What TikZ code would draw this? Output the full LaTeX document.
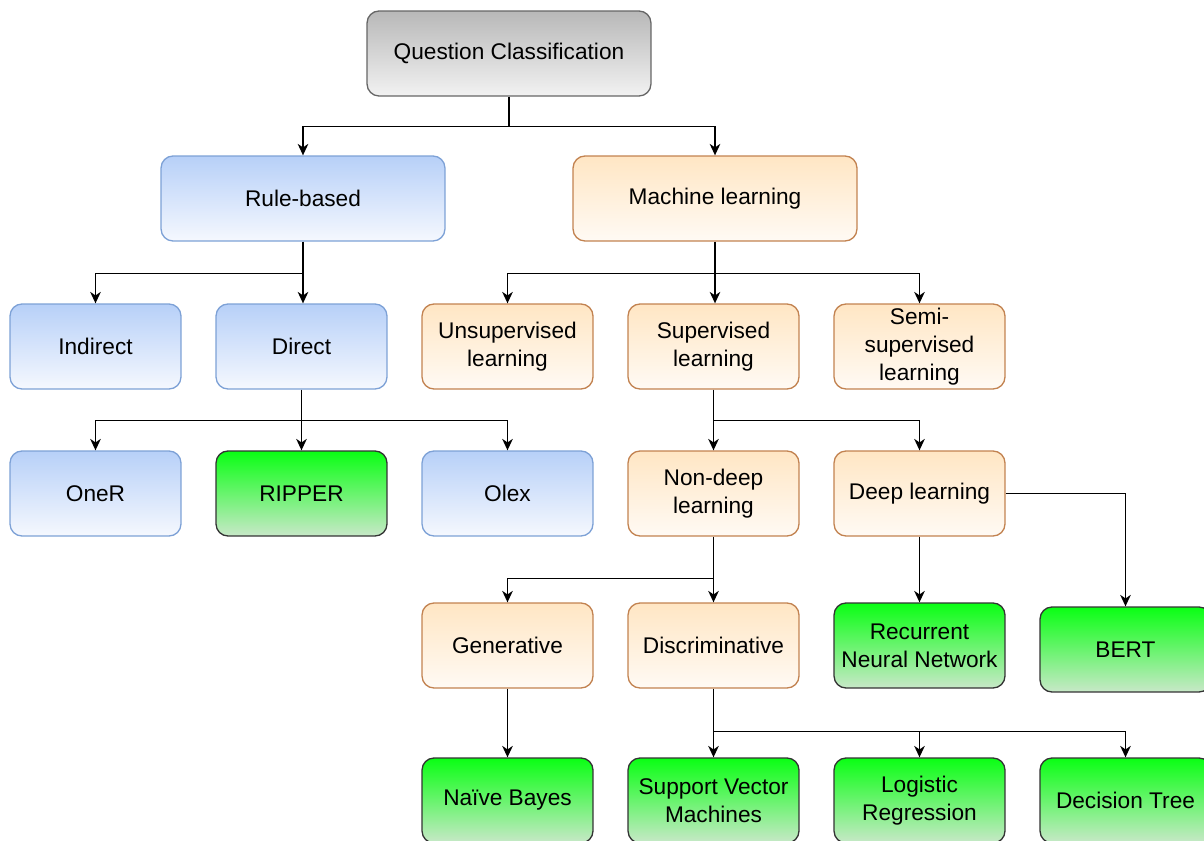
\documentclass[tikz,border=0pt]{standalone}
\usepackage{fontspec}
\setmainfont{Liberation Sans}
\usetikzlibrary{arrows.meta}

\definecolor{grayTop}{HTML}{B8B8B8}
\definecolor{grayBot}{HTML}{F2F2F2}
\definecolor{grayLine}{HTML}{666666}
\definecolor{blueTop}{HTML}{B7D0F8}
\definecolor{blueBot}{HTML}{F5F8FE}
\definecolor{blueLine}{HTML}{7DA1D6}
\definecolor{orangeTop}{HTML}{FFE6C4}
\definecolor{orangeBot}{HTML}{FFFAF4}
\definecolor{orangeLine}{HTML}{C28250}
\definecolor{greenTop}{HTML}{0AFF14}
\definecolor{greenBot}{HTML}{C8E8C8}
\definecolor{greenLine}{HTML}{333333}

\tikzset{
  box/.style={rounded corners=0.24cm, minimum width=3.42cm, minimum height=1.7cm,
    align=center, inner sep=2pt, line width=0.75pt,
    font=\fontsize{12.9}{16}\selectfont},
  widebox/.style={box, minimum width=5.68cm},
  graybox/.style={box, draw=grayLine, top color=grayTop, bottom color=grayBot},
  bluebox/.style={box, draw=blueLine, top color=blueTop, bottom color=blueBot},
  orangebox/.style={box, draw=orangeLine, top color=orangeTop, bottom color=orangeBot},
  greenbox/.style={box, draw=greenLine, top color=greenTop, bottom color=greenBot},
  link/.style={line width=0.95pt, draw=black},
  arr/.style={link, -{Stealth[length=6.5pt, width=6pt, inset=2pt]}},
}

\begin{document}
\begin{tikzpicture}[x=0.02cm, y=-0.02cm]
\useasboundingbox (0,0) rectangle (1204,841);

% root
\node[graybox, widebox] (qc) at (509,53.5) {Question Classification};

% first level
\node[bluebox, widebox] (rb) at (303,198.5) {Rule-based};
\node[orangebox, widebox] (ml) at (715,198.5) {Machine learning};

% second level
\node[bluebox] (indirect) at (95.5,346.5) {Indirect};
\node[bluebox] (direct) at (301.5,346.5) {Direct};
\node[orangebox] (unsup) at (507.5,346.5) {Unsupervised\\learning};
\node[orangebox] (sup) at (713.5,346.5) {Supervised\\learning};
\node[orangebox] (semi) at (919.5,346.5) {Semi-\\supervised\\learning};

% third level
\node[bluebox] (oner) at (95.5,493.5) {OneR};
\node[greenbox] (ripper) at (301.5,493.5) {RIPPER};
\node[bluebox] (olex) at (507.5,493.5) {Olex};
\node[orangebox] (nondeep) at (713.5,493.5) {Non-deep\\learning};
\node[orangebox] (deep) at (919.5,493.5) {Deep learning};

% fourth level
\node[orangebox] (gen) at (507.5,645.5) {Generative};
\node[orangebox] (disc) at (713.5,645.5) {Discriminative};
\node[greenbox] (rnn) at (919.5,645.5) {Recurrent\\Neural Network};
\node[greenbox] (bert) at (1125.5,649.5) {BERT};

% leaves
\node[greenbox] (nb) at (507.5,800.5) {Naïve Bayes};
\node[greenbox] (svm) at (713.5,800.5) {Support Vector\\Machines};
\node[greenbox] (lr) at (919.5,800.5) {Logistic\\Regression};
\node[greenbox] (dt) at (1125.5,800.5) {Decision Tree};

% connectors
\draw[link] (qc.south) -- ++(0,30) coordinate (qcj);
\draw[arr] (qcj) -| (rb.north);
\draw[arr] (qcj) -| (ml.north);

\draw[link] (rb.south) -- ++(0,32) coordinate (rbj);
\draw[arr] (rbj) -| (indirect.north);
\draw[arr] (rbj) -- (rb.south |- direct.north);

\draw[link] (ml.south) -- ++(0,32) coordinate (mlj);
\draw[arr] (mlj) -| (unsup.north);
\draw[arr] (mlj) -- (ml.south |- sup.north);
\draw[arr] (mlj) -| (semi.north);

\draw[link] (direct.south) -- ++(0,31) coordinate (dj);
\draw[arr] (dj) -| (oner.north);
\draw[arr] (dj) -- (ripper.north);
\draw[arr] (dj) -| (olex.north);

\draw[link] (sup.south) -- ++(0,31) coordinate (sj);
\draw[arr] (sj) -- (nondeep.north);
\draw[arr] (sj) -| (deep.north);

\draw[link] (nondeep.south) -- ++(0,42) coordinate (nj);
\draw[arr] (nj) -| (gen.north);
\draw[arr] (nj) -- (disc.north);

\draw[arr] (deep.south) -- (rnn.north);
\draw[arr] (deep.east) -| (bert.north);

\draw[arr] (gen.south) -- (nb.north);

\draw[link] (disc.south) -- ++(0,43) coordinate (cj);
\draw[arr] (cj) -- (svm.north);
\draw[arr] (cj) -| (lr.north);
\draw[arr] (cj) -| (dt.north);
\end{tikzpicture}
\end{document}
